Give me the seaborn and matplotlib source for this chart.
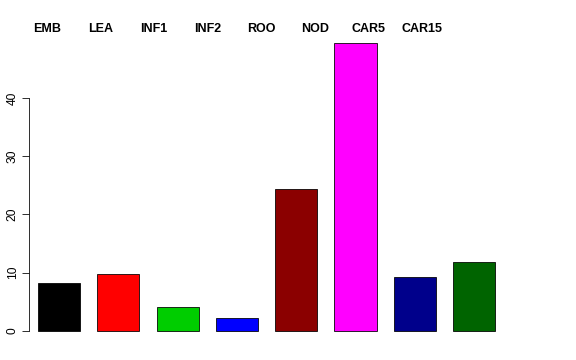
import matplotlib
matplotlib.use("Agg")
import matplotlib.pyplot as plt
import seaborn as sns
import pandas as pd

categories = ["EMB", "LEA", "INF1", "INF2", "ROO", "NOD", "CAR5", "CAR15"]
values = [8.2, 9.8, 4.1, 2.2, 24.4, 49.4, 9.3, 11.9]
colors = ["#000000", "#FF0000", "#00CD00", "#0000FF", "#8B0000", "#FF00FF", "#00008B", "#006400"]
yticks = [0, 10, 20, 30, 40]

sns.set_theme(style="white")
plt.rcParams["font.family"] = ["Liberation Sans", "DejaVu Sans"]
plt.rcParams["text.color"] = "black"
plt.rcParams["ytick.color"] = "black"
plt.rcParams["ytick.labelcolor"] = "black"

df = pd.DataFrame({"cat": categories, "val": values})
fig = plt.figure(figsize=(8, 5), dpi=72)
ax = fig.add_axes([29 / 576, 17.5 / 360, 511 / 576, (342.5 - 31.7) / 360])

sns.barplot(data=df, x="cat", y="val", hue="cat", palette=dict(zip(categories, colors)),
            order=categories, hue_order=categories, dodge=False, legend=False,
            width=0.71, edgecolor="black", linewidth=0.8, ax=ax, saturation=1)

ax.set_xlim(-0.506, 8.11)
ax.set_ylim(-1.976, 51.38)
ax.set_xlabel("")
ax.set_ylabel("")
ax.set_xticks([])
ax.set_yticks(yticks)
ax.set_yticklabels([str(t) for t in yticks], rotation=90, va="center", fontsize=12, color="black")
for s in ["top", "right", "bottom"]:
    ax.spines[s].set_visible(False)
ax.spines["left"].set_bounds(0, 40)
ax.spines["left"].set_color("black")
ax.spines["left"].set_linewidth(0.8)
ax.tick_params(axis="y", left=True, length=7.2, width=0.8, color="black", pad=3)
ax.patch.set_alpha(0)

for i, c in enumerate(categories):
    fig.text((47 + 53.6 * i) / 576, 1 - 29 / 360, c, ha="center", va="center",
             fontsize=12.5, fontweight="bold", color="black")

fig.savefig("out.png", dpi=72)
